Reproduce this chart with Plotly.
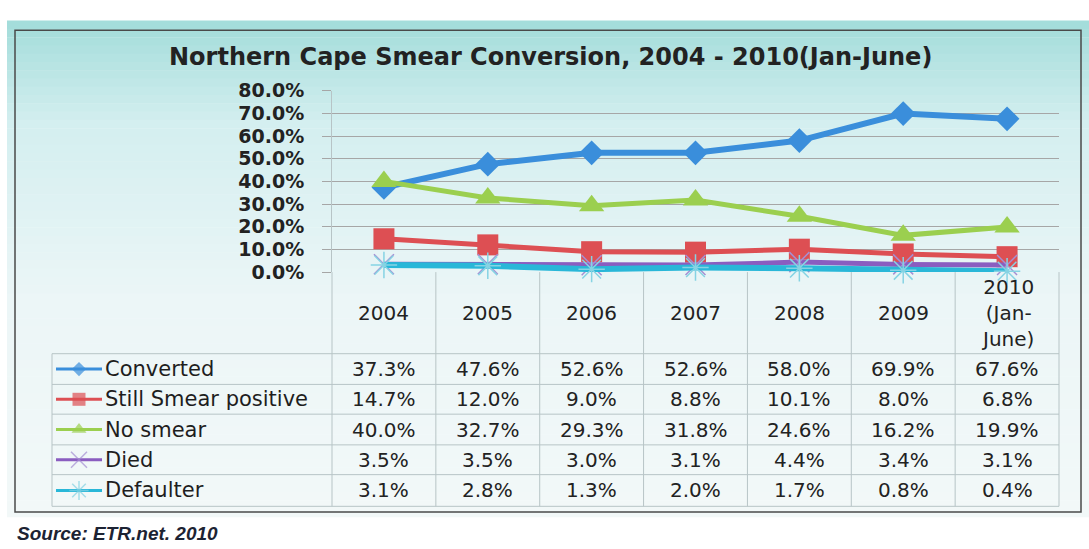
import plotly.graph_objects as go

# ---------------- data ----------------
categories = ["2004", "2005", "2006", "2007", "2008", "2009", "2010<br>(Jan-<br>June)"]
series_names = ["Converted", "Still Smear positive", "No smear", "Died", "Defaulter"]
converted = [0.373, 0.476, 0.526, 0.526, 0.580, 0.699, 0.676]
still_smear_positive = [0.147, 0.120, 0.090, 0.088, 0.101, 0.080, 0.068]
no_smear = [0.400, 0.327, 0.293, 0.318, 0.246, 0.162, 0.199]
died = [0.035, 0.035, 0.030, 0.031, 0.044, 0.034, 0.031]
defaulter = [0.031, 0.028, 0.013, 0.020, 0.017, 0.008, 0.004]
y_ticks = [0.0, 0.1, 0.2, 0.3, 0.4, 0.5, 0.6, 0.7, 0.8]
title_text = "Northern Cape Smear Conversion, 2004 - 2010(Jan-June)"
source_text = "Source: ETR.net. 2010"

series_values = [converted, still_smear_positive, no_smear, died, defaulter]

# ---------------- styles ----------------
W, H = 1089, 549
FONT = "DejaVu Sans"
styles = [
    dict(color="#3a8edb", width=6, symbol="diamond", size=19, mcolor="#3a8edb", lw=0, lsize=11),
    dict(color="#dd4f53", width=5, symbol="square", size=21, mcolor="#dd4f53", lw=0, lsize=13),
    dict(color="#9bcf4f", width=5, symbol="triangle-up", size=22, mcolor="#9bcf4f", lw=0, lsize=13),
    dict(color="#8a5dc0", width=5, symbol="x-thin", size=20, mcolor="#a58fd3", lw=1.5, lsize=16),
    dict(color="#29b7d8", width=6, symbol="asterisk", size=22, mcolor="#86d3e3", lw=1.5, lsize=16),
]

def px(x):
    return x / W

def py(y):
    return 1 - y / H

x_left, x_right = 332, 1059
y_top, y_zero = 83, 272
col_w = (x_right - x_left) / len(categories)
row_lines = [357, 389, 420, 452, 483, 516]
tbl_left = 52
grid_col = "#a6a6a6"
tbl_col = "#b7c4c6"

x_idx = list(range(len(categories)))

fig = go.Figure()

for name, vals, st in zip(series_names, series_values, styles):
    fig.add_trace(go.Scatter(
        x=x_idx, y=vals, mode="lines+markers", name=name,
        line=dict(color=st["color"], width=st["width"]),
        marker=dict(symbol=st["symbol"], size=st["size"], color=st["mcolor"],
                    line=dict(width=st["lw"], color=st["mcolor"])),
        cliponaxis=False, showlegend=False, xaxis="x", yaxis="y",
    ))

# legend glyphs inside the data table (pixel overlay axes)
for i, (name, st) in enumerate(zip(series_names, styles)):
    yc = (row_lines[i] + row_lines[i + 1]) / 2
    fig.add_trace(go.Scatter(
        x=[56, 79, 102], y=[yc, yc, yc], mode="lines+markers",
        line=dict(color=st["color"], width=3),
        marker=dict(symbol=st["symbol"], size=[0, st["lsize"], 0], color=st["mcolor"],
                    line=dict(width=st["lw"], color=st["mcolor"])),
        showlegend=False, hoverinfo="skip", xaxis="x2", yaxis="y2", cliponaxis=False,
    ))

shapes = []
# background gradient
top_c = (164, 221, 219)
mid_c = (212, 239, 240)
low_c = (236, 246, 247)
bot_c = (243, 249, 249)
n_b = 60
y0b, y1b = 10, 527
for k in range(n_b):
    ya = y0b + (y1b - y0b) * k / n_b
    yb = y0b + (y1b - y0b) * (k + 1) / n_b + 0.5
    t = (ya - y0b) / (y1b - y0b)
    if t < 0.2:
        u = t / 0.2
        c = [top_c[j] + (mid_c[j] - top_c[j]) * u for j in range(3)]
    elif t < 0.55:
        u = (t - 0.2) / 0.35
        c = [mid_c[j] + (low_c[j] - mid_c[j]) * u for j in range(3)]
    else:
        u = (t - 0.55) / 0.45
        c = [low_c[j] + (bot_c[j] - low_c[j]) * u for j in range(3)]
    shapes.append(dict(type="rect", xref="paper", yref="paper", x0=px(7), x1=1, y0=py(yb), y1=py(ya),
                       fillcolor="rgb(%d,%d,%d)" % tuple(int(v) for v in c), line=dict(width=0), layer="below"))
# chart border
shapes.append(dict(type="rect", xref="paper", yref="paper", x0=px(15), x1=px(1081), y0=py(522), y1=py(20),
                   line=dict(color="#4a4a4a", width=1.5), fillcolor="rgba(0,0,0,0)", layer="below"))
# table vertical lines (header + body)
for k in range(len(categories) + 1):
    xx = x_left + col_w * k
    shapes.append(dict(type="line", xref="paper", yref="paper", x0=px(xx), x1=px(xx),
                       y0=py(y_zero), y1=py(row_lines[-1]), line=dict(color=tbl_col, width=1)))
shapes.append(dict(type="line", xref="paper", yref="paper", x0=px(tbl_left), x1=px(tbl_left),
                   y0=py(row_lines[0]), y1=py(row_lines[-1]), line=dict(color=tbl_col, width=1)))
for yy in row_lines:
    shapes.append(dict(type="line", xref="paper", yref="paper", x0=px(tbl_left), x1=px(x_right),
                       y0=py(yy), y1=py(yy), line=dict(color=tbl_col, width=1)))

annotations = []
annotations.append(dict(text=title_text, xref="paper", yref="paper", x=px(550), y=py(48),
                        showarrow=False, xanchor="center", yanchor="middle",
                        font=dict(family=FONT, size=24, color="#222222", weight="bold")))
annotations.append(dict(text="<i><b>" + source_text + "</b></i>", xref="paper", yref="paper", x=px(15), y=py(544),
                        showarrow=False, xanchor="left", yanchor="middle",
                        font=dict(family="Liberation Sans", size=19, color="#1c2333")))
# header years
for i, cat in enumerate(categories):
    annotations.append(dict(text=cat, xref="x", yref="paper", x=i, y=py(315),
                            showarrow=False, xanchor="center", yanchor="middle",
                            font=dict(family=FONT, size=20, color="#222222")))
# row labels and values
for r, (name, vals) in enumerate(zip(series_names, series_values)):
    yc = (row_lines[r] + row_lines[r + 1]) / 2
    annotations.append(dict(text=name, xref="paper", yref="paper", x=px(103), y=py(yc),
                            showarrow=False, xanchor="left", yanchor="middle",
                            font=dict(family=FONT, size=21, color="#1e1e1e")))
    for i, v in enumerate(vals):
        annotations.append(dict(text="%.1f%%" % (v * 100), xref="x", yref="paper", x=i, y=py(yc),
                                showarrow=False, xanchor="center", yanchor="middle",
                                font=dict(family=FONT, size=20, color="#222222")))

fig.update_layout(
    width=W, height=H, autosize=False,
    margin=dict(l=0, r=0, t=0, b=0),
    paper_bgcolor="white", plot_bgcolor="rgba(0,0,0,0)",
    xaxis=dict(domain=[px(x_left), px(x_right)], range=[-0.5, len(categories) - 0.5],
               showgrid=False, zeroline=False, showticklabels=False, showline=False, ticks="",
               fixedrange=True),
    yaxis=dict(domain=[py(y_zero), py(y_top)], range=[0, 0.8], tickvals=y_ticks,
               tickformat=".1%", showgrid=True, gridcolor=grid_col, gridwidth=1,
               zeroline=False, showline=True, linecolor=tbl_col, linewidth=1,
               ticks="outside", ticklen=9, tickcolor=grid_col, ticklabelstandoff=14,
               tickfont=dict(family=FONT, size=19, color="#222222", weight="bold"),
               fixedrange=True),
    xaxis2=dict(domain=[0, 1], range=[0, W], anchor="y2", visible=False, fixedrange=True),
    yaxis2=dict(domain=[0, 1], range=[H, 0], anchor="x2", visible=False, fixedrange=True),
    shapes=shapes, annotations=annotations,
)

fig.write_html("out.html", config={"displayModeBar": False},
               post_script="document.body.style.margin='0';document.body.style.overflow='hidden';")
